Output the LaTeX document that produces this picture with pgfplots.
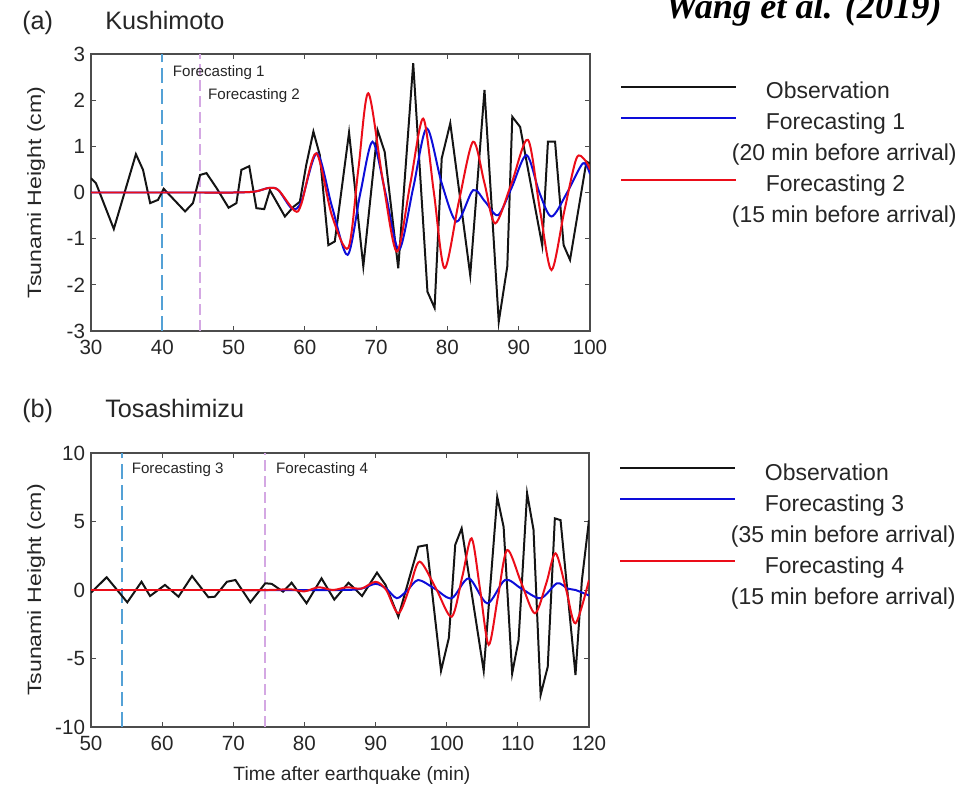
\documentclass[border=0pt]{standalone}
\usepackage{fontspec}
\setmainfont{Liberation Sans}
\newfontfamily\titlefont{Liberation Serif}
\usepackage{pgfplots}
\pgfplotsset{compat=1.18}

\definecolor{obs}{rgb}{0.08,0.08,0.08}
\definecolor{fblue}{rgb}{0.05,0.05,0.85}
\definecolor{fred}{rgb}{0.92,0.05,0.1}
\definecolor{dblue}{rgb}{0.33,0.63,0.84}
\definecolor{dpink}{rgb}{0.83,0.66,0.89}
\definecolor{axgray}{gray}{0.3}
\definecolor{txt}{gray}{0.15}

\pgfplotsset{
  tsu/.style={
    scale only axis,
    anchor=south west,
    axis line style={axgray, line width=0.8pt},
    tick align=inside,
    major tick length=4bp,
    tick style={axgray, line width=0.6pt},
    every tick label/.append style={font=\fontsize{15.5}{17}\selectfont, text=txt},
    xticklabel style={yshift=-3.5bp},
    yticklabel style={xshift=-1bp},
    /pgf/number format/assume math mode=true,
    label style={font=\fontsize{14.5}{16}\selectfont, text=txt},
    ylabel style={at={(axis description cs:-0.110,0.5)}, anchor=center},
    legend cell align=left,
    legend style={draw=none, fill=none, at={(axis description cs:1,1)},
      anchor=north west,
      font=\fontsize{17.3}{20}\selectfont, text=txt,
      row sep=7.25bp, column sep=21.75bp,
      nodes={inner sep=0pt, text height=12bp, text depth=4bp}},
    legend image code/.code={\draw[#1] (0bp,5bp) -- (86bp,5bp);},
  },
  obsline/.style={obs, line width=1.5pt},
  f1line/.style={fblue, line width=1.5pt, smooth},
  f2line/.style={fred, line width=1.5pt, smooth},
}
\tikzset{lbl/.style={anchor=base west, inner sep=0pt, font=\fontsize{19}{22}\selectfont, text=txt},
  fc/.style={anchor=west, inner sep=0pt, font=\fontsize{11.4}{13}\selectfont, text=txt}}

\begin{document}
\begin{tikzpicture}[x=0.75bp, y=0.75bp]
\useasboundingbox (0,0) rectangle (980,796);

\node[anchor=base west, inner sep=0pt, font=\titlefont\bfseries\itshape\fontsize{27.3}{30}\selectfont] at (665,777) {Wang et al. (2019)};

\node[lbl] at (22,766) {(a)};
\node[lbl] at (105,766.5) {Kushimoto};
\node[lbl] at (22,378) {(b)};
\node[lbl] at (105,378) {Tosashimizu};

% (a) Kushimoto
\begin{axis}[tsu, at={(68.25bp,348.75bp)}, width=374.25bp, height=207.75bp,
  xmin=30, xmax=100, ymin=-3, ymax=3,
  xtick={30,40,...,100}, ytick={-3,-2,...,3},
  ylabel={\scalebox{1.2}[1]{Tsunami Height (cm)}},
  legend style={xshift=19.5bp, yshift=-19.5bp}]
\addplot[dblue, line width=1.5pt, dash pattern=on 11bp off 4.5bp, forget plot] coordinates {(40,-3) (40,3)};
\addplot[dpink, line width=1.5pt, dash pattern=on 8bp off 4bp, forget plot] coordinates {(45.3,-3) (45.3,3)};
\addplot[obsline] coordinates {
(30,0.31) (30.7,0.2) (33.2,-0.79) (36.3,0.83) (37.3,0.49) (38.3,-0.23) (39.4,-0.16)
(40.2,0.08) (43.2,-0.41) (44.3,-0.23) (45.3,0.38) (46.2,0.42) (47.6,0.1) (49.3,-0.33)
(50.4,-0.23) (51.1,0.49) (52.2,0.57) (53.2,-0.34) (54.3,-0.36) (55.1,0.05) (57.2,-0.52)
(58.4,-0.31) (59.3,-0.2) (60.2,0.6) (61.2,1.32) (62.1,0.81) (63.3,-1.14) (64.2,-1.06)
(66.2,1.3) (68.2,-1.6) (70.2,1.35) (71.2,0.88) (73.1,-1.64) (75.2,2.8) (77.2,-2.15)
(78.2,-2.5) (79.2,0.74) (80.4,1.5) (83.2,-1.79) (85.2,2.22) (87.2,-2.8) (88.4,-1.6)
(89.1,1.64) (90.2,1.42) (93.3,-1.15) (94.1,1.1) (95.1,1.1) (96.3,-1.14) (97.2,-1.46)
(99.5,0.67) (100,0.63)
};
\addlegendentry{Observation}
\addplot[f1line] coordinates {
(30,0) (45,0) (50,0) (53,0.02) (55,0.1) (56.3,0.05) (58.2,-0.35) (59.5,-0.2)
(61.7,0.85) (63.8,-0.3) (66,-1.35) (67.8,0) (69.5,1.1) (71.3,0) (73.2,-1.24)
(75.2,0.1) (77.1,1.39) (79.2,0.2) (81.3,-0.63) (83.6,0.05) (85.3,-0.2) (87.1,-0.49)
(89,0.1) (91.1,0.81) (92.9,0) (94.6,-0.52) (96.8,0) (99,0.63) (100,0.4)
};
\addlegendentry{Forecasting 1}
\addlegendimage{empty legend}
\addlegendentry{\hspace*{-25.5bp}(20 min before arrival)}
\addplot[f2line] coordinates {
(30,0) (45,0) (50,0) (53,0.02) (55,0.1) (56.3,0.05) (58.6,-0.4) (59.5,-0.25)
(61.6,0.85) (63.8,-0.5) (66.1,-1.2) (67.5,0.5) (68.9,2.15) (70.9,0.3) (72.9,-1.28)
(74.8,0.2) (76.6,1.6) (78.1,0) (79.6,-1.64) (81.6,-0.2) (83.6,1.1) (85.2,0.2)
(86.7,-0.67) (89,0.2) (91.3,1.14) (93,-0.4) (94.6,-1.68) (96.4,-0.4) (98.1,0.74)
(99.3,0.7) (100,0.5)
};
\addlegendentry{Forecasting 2}
\addlegendimage{empty legend}
\addlegendentry{\hspace*{-25.5bp}(15 min before arrival)}
\node[fc] at (axis cs:41.45,2.59) {Forecasting 1};
\node[fc] at (axis cs:46.4,2.09) {Forecasting 2};
\end{axis}

% (b) Tosashimizu
\begin{axis}[tsu, at={(68.25bp,51.75bp)}, width=373.5bp, height=205.5bp,
  xmin=50, xmax=120, ymin=-10, ymax=10,
  xtick={50,60,...,120}, ytick={-10,-5,0,5,10},
  ylabel={\scalebox{1.2}[1]{Tsunami Height (cm)}},
  xlabel={Time after earthquake (min)},
  xlabel style={at={(axis description cs:0.524,-0.178)}, anchor=center},
  legend style={xshift=19.5bp, yshift=-6.3bp}]
\addplot[dblue, line width=1.5pt, dash pattern=on 11bp off 4.5bp, forget plot] coordinates {(54.4,-10) (54.4,10)};
\addplot[dpink, line width=1.5pt, dash pattern=on 8bp off 4bp, forget plot] coordinates {(74.5,-10) (74.5,10)};
\addplot[obsline] coordinates {
(50,-0.2) (52.2,0.93) (55.1,-0.9) (57.1,0.6) (58.3,-0.44) (60.4,0.37) (62.3,-0.49)
(64.2,1.02) (66.5,-0.53) (67.4,-0.49) (69.1,0.6) (70.3,0.73) (72.4,-0.9) (74.5,0.49)
(75.4,0.45) (77,-0.12) (78.2,0.53) (80.3,-0.97) (82.4,0.85) (84.2,-0.7) (86.2,0.53)
(88.1,-0.44) (90.2,1.27) (91.4,0.37) (93.2,-1.95) (96,3.16) (97.2,3.28) (99.2,-5.9)
(100.3,-3.5) (101.2,3.3) (102.1,4.5) (105.2,-5.9) (107.1,6.8) (108,4.6) (109.2,-6.1)
(110.1,-3.65) (111.3,7.06) (112.2,4.4) (113.2,-7.66) (114.2,-5.6) (115.2,5.23)
(116,5.1) (118.1,-6.2) (119,0.7) (120,5.1)
};
\addlegendentry{Observation}
\addplot[f1line] coordinates {
(50,0) (70,0) (85,0) (88,0.1) (90,0.45) (91.5,0.1) (93,-0.6) (94.5,0) (96,0.73)
(98.3,0.1) (100.7,-0.6) (103.1,0.85) (105.7,-0.97) (108.2,0.73) (110.5,0.1)
(113.2,-0.6) (115.5,0.49) (117,0.1) (118.1,0) (120,-0.4)
};
\addlegendentry{Forecasting 3}
\addlegendimage{empty legend}
\addlegendentry{\hspace*{-25.5bp}(35 min before arrival)}
\addplot[f2line] coordinates {
(50,0) (70,0) (75,0) (78,0.05) (80,-0.1) (82,0.2) (84,0) (86,0.2) (88,0.1) (90,0.6)
(91.5,0) (93.2,-1.7) (94.8,0.2) (96.2,2.07) (98.5,0.1) (100.7,-1.95) (102.2,1)
(103.5,3.77) (104.7,0) (105.9,-4) (107.2,-0.5) (108.5,2.92) (110.5,0.5) (112.4,-1.7)
(114,0.5) (115.3,2.68) (116.8,0) (118.1,-2.43) (120,0.73)
};
\addlegendentry{Forecasting 4}
\addlegendimage{empty legend}
\addlegendentry{\hspace*{-25.5bp}(15 min before arrival)}
\node[fc] at (axis cs:55.7,8.76) {Forecasting 3};
\node[fc] at (axis cs:76,8.76) {Forecasting 4};
\end{axis}
\end{tikzpicture}
\end{document}
